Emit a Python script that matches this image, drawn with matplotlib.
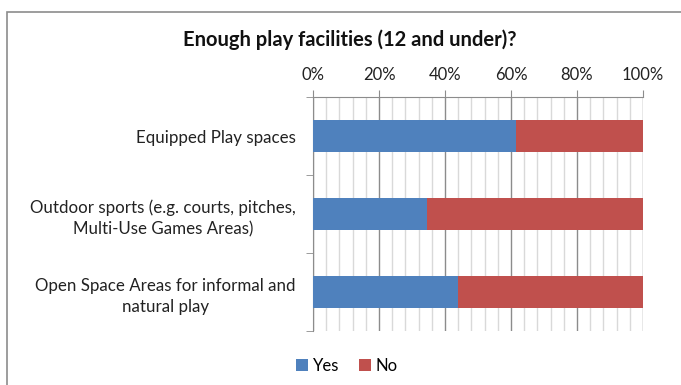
import numpy as np
from matplotlib import pyplot as plt
from matplotlib.patches import Rectangle
from matplotlib.ticker import MultipleLocator, FuncFormatter

categories = ["Equipped Play spaces",
              "Outdoor sports (e.g. courts, pitches,\nMulti-Use Games Areas)",
              "Open Space Areas for informal and\nnatural play"]
yes = [61.5, 34.5, 44.0]
no = [38.5, 65.5, 56.0]

blue = "#4f81bd"
red = "#c0504d"

plt.rcParams['font.family'] = ['Lato', 'DejaVu Sans']

fig = plt.figure(figsize=(6.81, 3.85), dpi=100)
ax = fig.add_axes([313 / 681, 1 - 331 / 385, 330 / 681, 234 / 385])

# outer chart border
fig.patches.append(Rectangle((7 / 681, -0.05), 1.1, 1 - 12 / 385 + 0.05,
                             transform=fig.transFigure, fill=False,
                             edgecolor="#8c8c8c", linewidth=1.2))

y = np.arange(len(categories))
ax.barh(y, yes, height=0.4, color=blue, label="Yes", zorder=3)
ax.barh(y, no, left=yes, height=0.4, color=red, label="No", zorder=3)

ax.set_xlim(0, 100)
ax.set_ylim(len(categories) - 0.5, -0.5)
ax.xaxis.tick_top()
ax.xaxis.set_major_locator(MultipleLocator(20))
ax.xaxis.set_minor_locator(MultipleLocator(4))
ax.xaxis.set_major_formatter(FuncFormatter(lambda v, p: f"{v:.0f}%"))
ax.grid(axis="x", which="major", color="#8c8c8c", linewidth=1.0, zorder=0)
ax.grid(axis="x", which="minor", color="#d9d9d9", linewidth=1.0, zorder=0)
ax.tick_params(axis="x", which="major", length=5, color="#8c8c8c",
               labelsize=12, pad=5, labelcolor="#222222")
ax.tick_params(axis="x", which="minor", length=0)

ax.set_yticks(y)
ax.set_yticklabels(categories, fontsize=12.2, multialignment="center",
                   linespacing=1.45, color="#222222")
ax.set_yticks(np.arange(len(categories) + 1) - 0.5, minor=True)
ax.tick_params(axis="y", which="major", length=0, pad=12.5)
ax.tick_params(axis="y", which="minor", length=5, color="#8c8c8c")

for s in ["right", "bottom"]:
    ax.spines[s].set_visible(False)
for s in ["left", "top"]:
    ax.spines[s].set_color("#8c8c8c")

fig.text(350 / 681, 1 - 40 / 385, "Enough play facilities (12 and under)?",
         ha="center", va="center", fontsize=14.5, fontweight="bold",
         color="#111111")

fig.legend(loc="center", bbox_to_anchor=(347 / 681, 1 - 366 / 385), ncol=2,
           frameon=False, fontsize=12, handlelength=0.7, handleheight=0.7,
           handletextpad=0.3, columnspacing=1.2)

fig.savefig("out.png", dpi=100)
